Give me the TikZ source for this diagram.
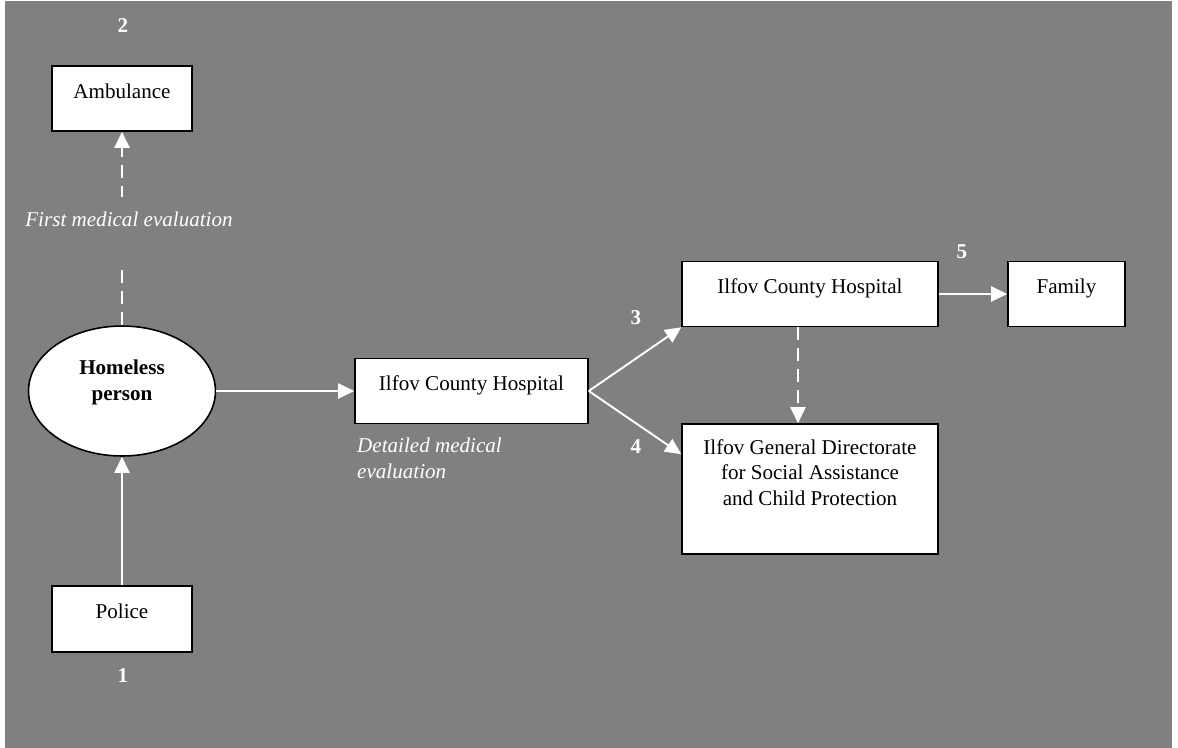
\documentclass[tikz,border=0pt]{standalone}
\usepackage{fontspec}
\setmainfont{Liberation Serif}
\usepackage{xcolor}
\usepackage{tikz}
\usetikzlibrary{calc,arrows.meta,shapes.geometric}
\definecolor{bggray}{HTML}{808080}

\begin{document}
\begin{tikzpicture}[
    x=0.02cm, y=-0.02cm,
    every node/.style={font=\fontsize{12pt}{14.4pt}\selectfont},
    box/.style={rectangle, draw, fill=white, line width=0.9pt, inner ysep=0pt, text height=0.64cm, text depth=0.66cm, align=center},
    num/.style={text=white, font=\fontsize{12pt}{14.4pt}\selectfont\bfseries},
    note/.style={text=white, font=\fontsize{12pt}{14.8pt}\selectfont\itshape, align=left},
    arrow/.style={-{Triangle[length=0.32cm, width=0.3cm]}, white, line width=1.1pt},
    dasharrow/.style={arrow, dash pattern=on 0.26cm off 0.16cm},
]
\useasboundingbox (0,0) rectangle (1178,748);
\fill[bggray] (5,1) rectangle (1172,748);
\node[box, minimum width=2.8cm] (amb) at (122,98.5) {Ambulance};
\node[ellipse, draw, fill=white, line width=0.9pt, minimum width=3.74cm, minimum height=2.6cm, inner sep=0pt, text height=0.6cm, text depth=0.24cm, align=center, font=\fontsize{12pt}{14.4pt}\selectfont\bfseries] (home) at (122,391) {Homeless\\person};
\node[box, minimum width=2.8cm, text depth=0.68cm] (police) at (122,619) {Police};
\node[box, minimum width=4.66cm] (hosp1) at (471.5,391) {Ilfov County Hospital};
\node[box, minimum width=5.12cm] (hosp2) at (810,294) {Ilfov County Hospital};
\node[box, minimum width=2.34cm] (family) at (1066.5,294) {Family};
\node[box, minimum width=5.12cm, text height=1.62cm, text depth=0.98cm] (dgaspc) at (810,489) {Ilfov General Directorate\\for Social Assistance\\and Child Protection};
\node[num] (n1) at (123,676) {1};
\node[num] (n2) at (123,26) {2};
\node[num] (n3) at (636,318) {3};
\node[num] (n4) at (636,447) {4};
\node[num] (n5) at (962,252) {5};
\node[note, anchor=west] (detail) at (351,458) {Detailed medical\\evaluation};
\draw[arrow] (police) -- (home);
\draw[dasharrow] (home) -- node[pos=0.48, note, fill=bggray, inner ysep=0pt, text height=0.6cm, text depth=0.82cm, xshift=0.14cm] (first) {First medical evaluation} (amb);
\draw[arrow] (home) -- (hosp1);
\draw[arrow] (hosp1.east) -- (hosp2.south west);
\draw[arrow] (hosp1.east) -- ([yshift=-0.62cm]dgaspc.north west);
\draw[dasharrow] ([xshift=-0.24cm]hosp2.south) -- ([xshift=-0.24cm]dgaspc.north);
\draw[arrow] (hosp2) -- (family);
\end{tikzpicture}
\end{document}
